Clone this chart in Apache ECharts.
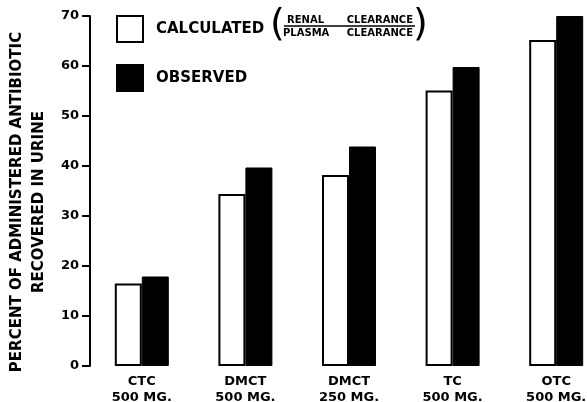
<!DOCTYPE html>
<html><head><meta charset="utf-8">
<script src="https://cdn.jsdelivr.net/npm/echarts@6/dist/echarts.min.js"></script>
<style>html,body{margin:0;padding:0;background:#fff;overflow:hidden}#c{width:608px;height:402px}</style>
</head><body><div id="c"></div>
<script>
const categories = ['CTC\n500 MG.', 'DMCT\n500 MG.', 'DMCT\n250 MG.', 'TC\n500 MG.', 'OTC\n500 MG.'];
const calculated = [16.5, 34.4, 38.2, 55.1, 65.2];
const observed = [17.9, 39.7, 43.9, 59.8, 70];
const yTicks = [0, 10, 20, 30, 40, 50, 60, 70];

const FONT = 'DejaVu Sans';
const chart = echarts.init(document.getElementById('c'));
chart.setOption({
  backgroundColor: '#fff',
  animation: false,
  grid: { left: 90, right: 0, top: 16, bottom: 36, containLabel: false, outerBoundsMode: 'none' },
  legend: {
    orient: 'vertical', left: 116, top: 15, padding: 0,
    icon: 'rect',
    itemWidth: 26, itemHeight: 26, itemGap: 21,
    textStyle: { fontFamily: FONT, fontWeight: 'bold', fontSize: 15, color: '#000', padding: [0, 0, 0, 8] },
    data: ['CALCULATED', 'OBSERVED']
  },
  xAxis: {
    type: 'category', data: categories,
    axisLine: { show: false }, axisTick: { show: false },
    axisLabel: { fontFamily: FONT, fontWeight: 'bold', fontSize: 13, color: '#000', lineHeight: 16, margin: 8 }
  },
  yAxis: {
    type: 'value', min: yTicks[0], max: yTicks[yTicks.length - 1], interval: 10,
    splitLine: { show: false },
    axisLine: { show: true, lineStyle: { color: '#000', width: 2 } },
    axisTick: { show: true, length: 8, lineStyle: { color: '#000', width: 2 } },
    axisLabel: { fontFamily: FONT, fontWeight: 'bold', fontSize: 13, color: '#000', margin: 11 },
    name: 'PERCENT OF ADMINISTERED ANTIBIOTIC\nRECOVERED IN URINE',
    nameLocation: 'middle', nameGap: 37, nameRotate: 90,
    nameTextStyle: { fontFamily: FONT, fontWeight: 'bold', fontSize: 15, color: '#000', lineHeight: 22, padding: [0, 22, 0, 0] }
  },
  series: [
    { name: 'CALCULATED', type: 'bar', data: calculated, barWidth: 27, barGap: '0%',
      itemStyle: { color: '#fff', borderColor: '#000', borderWidth: 2 } },
    { name: 'OBSERVED', type: 'bar', data: observed, barWidth: 27,
      itemStyle: { color: '#000', borderColor: '#000', borderWidth: 1 } }
  ],
  graphic: [
    { type: 'text', left: 270, top: 6, style: { text: '(', font: '38px ' + FONT, fill: '#000' } },
    { type: 'text', left: 413, top: 6, style: { text: ')', font: '38px ' + FONT, fill: '#000' } },
    { type: 'text', left: 287, top: 15, style: { text: 'RENAL', font: 'bold 10px ' + FONT, fill: '#000' } },
    { type: 'text', right: 608 - 413, top: 15, style: { text: 'CLEARANCE', font: 'bold 10px ' + FONT, fill: '#000' } },
    { type: 'line', shape: { x1: 284, y1: 26, x2: 415, y2: 26 }, style: { stroke: '#000', lineWidth: 1.5 } },
    { type: 'text', left: 283, top: 28, style: { text: 'PLASMA', font: 'bold 10px ' + FONT, fill: '#000' } },
    { type: 'text', right: 608 - 413, top: 28, style: { text: 'CLEARANCE', font: 'bold 10px ' + FONT, fill: '#000' } }
  ]
});
</script></body></html>
